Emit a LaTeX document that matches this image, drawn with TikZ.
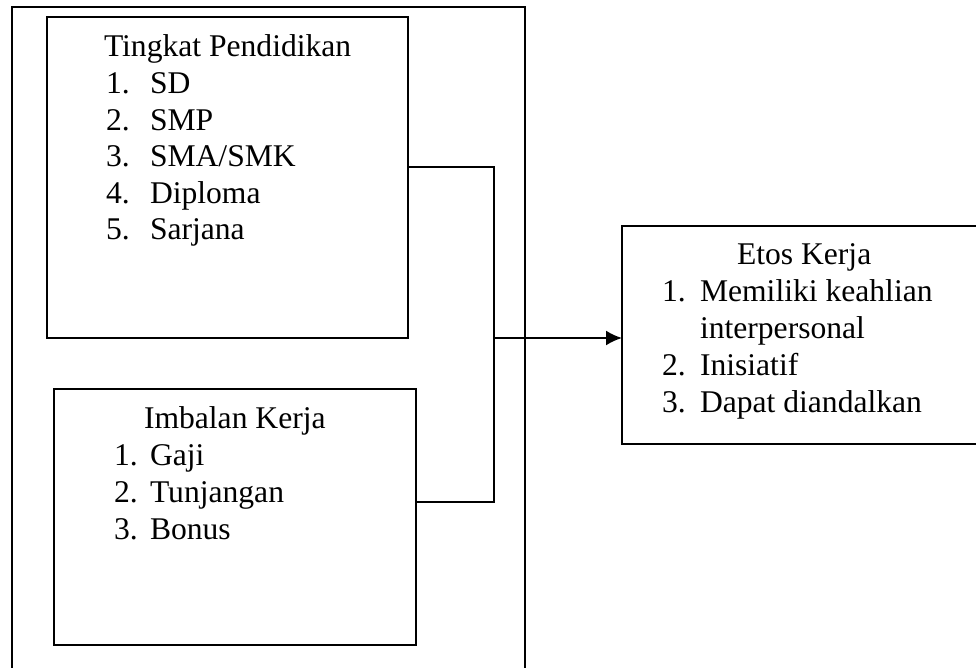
\documentclass[tikz,border=0pt]{standalone}
\usepackage{fontspec}
\setmainfont{Liberation Serif}
\usetikzlibrary{arrows.meta}
\begin{document}
\begin{tikzpicture}[x=1pt,y=-1pt,
  box/.style={draw=black,line width=2pt,inner sep=0pt,outer sep=0pt,rectangle},
  txt/.style={anchor=base west,inner sep=0pt,outer sep=0pt,font=\fontsize{31.6}{37}\selectfont},
  conn/.style={draw=black,line width=2pt},
  tip/.style={-{Latex[length=16pt,width=15pt]}}
]
\useasboundingbox (0,0) rectangle (976,668);
\fill[white] (0,0) rectangle (976,668);
\clip (0,0) rectangle (976,668);
% outer frame (bottom runs past the picture)
\node[box,minimum width=513.5pt,minimum height=700pt,anchor=north west] (outer) at (11.75,7.5) {};
% boxes
\node[box,minimum width=361pt,minimum height=320.5pt,anchor=north west] (pend) at (47,17.5) {};
\node[box,minimum width=362pt,minimum height=255.5pt,anchor=north west] (imb) at (54,389) {};
\node[box,minimum width=380pt,minimum height=218pt,anchor=north west] (etos) at (622,226) {};
% texts: Tingkat Pendidikan
\node[txt] (t1) at (104,57) {Tingkat Pendidikan};
\node[txt] (n11) at (106,93.6) {1.};  \node[txt] (i11) at (150,93.6) {SD};
\node[txt] (n12) at (106,130.2) {2.}; \node[txt] (i12) at (150,130.2) {SMP};
\node[txt] (n13) at (106,166.8) {3.}; \node[txt] (i13) at (150,166.8) {SMA/SMK};
\node[txt] (n14) at (106,203.4) {4.}; \node[txt] (i14) at (150,203.4) {Diploma};
\node[txt] (n15) at (106,240) {5.};   \node[txt] (i15) at (150,240) {Sarjana};
% Imbalan Kerja
\node[txt] (t2) at (144,428) {Imbalan Kerja};
\node[txt] (n21) at (114,465) {1.}; \node[txt] (i21) at (150,465) {Gaji};
\node[txt] (n22) at (114,502) {2.}; \node[txt] (i22) at (150,502) {Tunjangan};
\node[txt] (n23) at (114,539.5) {3.}; \node[txt] (i23) at (150,539.5) {Bonus};
% Etos Kerja
\node[txt] (t3) at (737,264) {Etos Kerja};
\node[txt] (n31) at (662,301) {1.}; \node[txt] (i31) at (700,301) {Memiliki keahlian};
\node[txt] (i31b) at (700,338) {interpersonal};
\node[txt] (n32) at (662,375) {2.}; \node[txt] (i32) at (700,375) {Inisiatif};
\node[txt] (n33) at (662,412) {3.}; \node[txt] (i33) at (700,412) {Dapat diandalkan};
% connectors
\coordinate (jt) at (494,167);
\coordinate (jb) at (494,502);
\coordinate (jm) at (494,338);
\draw[conn] (pend.east |- jt) -- (jt) -- (jb) -- (imb.east |- jb);
\draw[conn,tip] (jm) -- (etos.west |- jm);
\end{tikzpicture}
\end{document}
